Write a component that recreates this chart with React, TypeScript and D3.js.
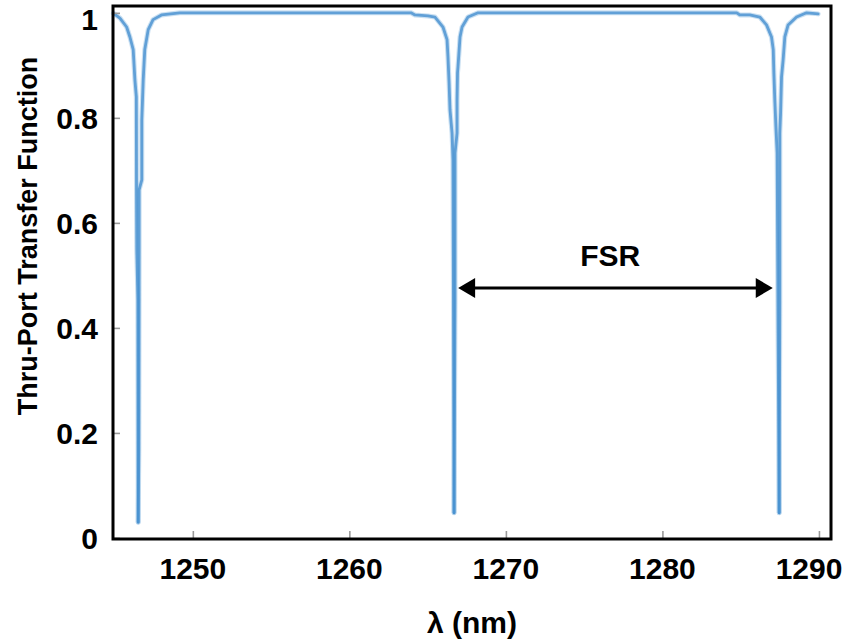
import React, { useEffect, useRef } from "react";
import * as d3 from "d3";

// thru-port response (nm, normalised)
const wavelength = [
  1244.93, 1245.34, 1245.77, 1245.98, 1246.19, 1246.3, 1246.39, 1246.4, 1246.42, 1246.49, 1246.51,
  1246.55, 1246.57, 1246.57, 1246.74, 1246.74, 1246.83, 1246.93, 1247.15, 1247.46, 1248.0, 1249.17,
  1263.94, 1264.19, 1265.02, 1265.47, 1265.98, 1266.24, 1266.3, 1266.37, 1266.43, 1266.56, 1266.62,
  1266.65, 1266.69,
  1266.75, 1266.75, 1266.88, 1266.88, 1266.91, 1266.94, 1267.07, 1267.2, 1267.58, 1268.22,
  1284.75, 1284.94, 1285.58, 1286.22, 1286.65, 1286.97, 1287.08, 1287.12, 1287.18, 1287.25, 1287.33,
  1287.39, 1287.46,
  1287.5, 1287.5, 1287.55, 1287.61, 1287.71, 1287.82, 1288.03, 1288.57, 1289.21, 1289.95,
];
const transmission = [
  0.999, 0.99, 0.973, 0.954, 0.93, 0.872, 0.84, 0.682, 0.549, 0.453, 0.03,
  0.168, 0.549, 0.663, 0.682, 0.796, 0.872, 0.93, 0.968, 0.987, 0.996, 1.0,
  1.0, 0.996, 0.994, 0.992, 0.973, 0.949, 0.916, 0.867, 0.815, 0.771, 0.72,
  0.453, 0.048,
  0.453, 0.733, 0.771, 0.834, 0.886, 0.897, 0.954, 0.973, 0.992, 1.0,
  1.0, 0.996, 0.996, 0.992, 0.977, 0.954, 0.93, 0.886, 0.834, 0.783, 0.733,
  0.39, 0.048,
  0.453, 0.771, 0.81, 0.878, 0.91, 0.954, 0.977, 0.992, 1.0, 0.998,
];

const xTicks = [1250, 1260, 1270, 1280, 1290];
const yTicks = [0, 0.2, 0.4, 0.6, 0.8, 1];
const yTickLabels = ["0", "0.2", "0.4", "0.6", "0.8", "1"];

// FSR arrow between the 2nd and 3rd resonance
const fsrFrom = 1266.95;
const fsrTo = 1287.05;
const fsrLevel = 0.476;
const fsrText = "FSR";

const W = 847;
const H = 644;
const font = "'Liberation Sans', Arial, Helvetica, sans-serif";

const x = d3.scaleLinear().domain([1244.9, 1290.77]).range([113, 831]);
const y = d3.scaleLinear().domain([-0.002, 1.013]).range([539, 6]);

export default function App() {
  const axRef = useRef<SVGGElement>(null);

  useEffect(() => {
    const g = d3.select(axRef.current);
    g.selectAll("*").remove();
    g.append("g")
      .attr("transform", `translate(0,${y.range()[0]})`)
      .call(d3.axisBottom(x).tickValues(xTicks).tickSize(-8).tickSizeOuter(0).tickFormat(() => ""));
    g.append("g")
      .attr("transform", `translate(${x.range()[0]},0)`)
      .call(d3.axisLeft(y).tickValues(yTicks).tickSize(-7).tickSizeOuter(0).tickFormat(() => ""));
    g.selectAll(".domain").remove();
    g.selectAll(".tick line").attr("stroke", "#9a9a9a").attr("stroke-width", 1.6);
  }, []);

  const pts: [number, number][] = wavelength.map((w, i) => [w, transmission[i]]);

  // split at each dip minimum so the down/up branches overlap and darken like the original
  const minIdx: number[] = [];
  for (let i = 1; i < pts.length - 1; i++) {
    if (pts[i][1] < pts[i - 1][1] && pts[i][1] < pts[i + 1][1]) minIdx.push(i);
  }
  const cuts = [0, ...minIdx, pts.length - 1];
  const pieces: [number, number][][] = [];
  for (let k = 0; k < cuts.length - 1; k++) pieces.push(pts.slice(cuts[k], cuts[k + 1] + 1));

  const line = d3
    .line<[number, number]>()
    .x((d) => x(d[0]))
    .y((d) => y(d[1]));

  const ay = y(fsrLevel);
  const ax1 = x(fsrFrom);
  const ax2 = x(fsrTo);
  const head = 17, half = 10;

  const [fx0, fx1] = x.range();
  const [fy1, fy0] = y.range();

  return (
    <svg
      width={W}
      height={H}
      viewBox={`0 0 ${W} ${H}`}
      style={{ position: "absolute", left: 0, top: 0, background: "#fff" }}
    >
      {/* curve */}
      <g fill="none" strokeLinejoin="round" strokeLinecap="round">
        {pieces.map((p, i) => (
          <path key={"h" + i} d={line(p) || ""} stroke="#a6cbea" strokeWidth={5} strokeOpacity={0.6} />
        ))}
        {pieces.map((p, i) => (
          <path key={"c" + i} d={line(p) || ""} stroke="#4690cf" strokeWidth={2.8} strokeOpacity={0.8} />
        ))}
      </g>

      <g ref={axRef} />

      {/* plot box */}
      <rect
        x={fx0}
        y={fy0}
        width={fx1 - fx0}
        height={fy1 - fy0}
        fill="none"
        stroke="rgb(0,0,0)"
        strokeWidth={3}
        vectorEffect="non-scaling-stroke"
      />

      <g fontFamily={font} fontWeight="bold" fill="#000">
        {xTicks.map((v, i) => (
          <text
            key={"xl" + v}
            x={i === xTicks.length - 1 ? Math.min(x(v), W - 38) : x(v)}
            y={579}
            textAnchor="middle"
            fontSize={30}
          >
            {v}
          </text>
        ))}
        {yTicks.map((v, i) => (
          <text key={"yl" + v} x={98} y={Math.max(y(v), 19)} dy="0.36em" textAnchor="end" fontSize={30}>
            {yTickLabels[i]}
          </text>
        ))}

        <text x={472} y={633} textAnchor="middle" fontSize={30}>
          λ (nm)
        </text>
        <text
          transform="translate(28,236) rotate(-90)"
          textAnchor="middle"
          dominantBaseline="central"
          fontSize={27}
        >
          Thru-Port Transfer Function
        </text>

        <text x={x(1276.66)} y={y(0.539)} dy="0.36em" textAnchor="middle" fontSize={30}>
          {fsrText}
        </text>
      </g>
      <line x1={ax1 + head - 2} x2={ax2 - head + 2} y1={ay} y2={ay} stroke="#000" strokeWidth={3.2} />
      <path d={`M${ax1},${ay} L${ax1 + head},${ay - half} L${ax1 + head},${ay + half} Z`} fill="#000" />
      <path d={`M${ax2},${ay} L${ax2 - head},${ay - half} L${ax2 - head},${ay + half} Z`} fill="#000" />
    </svg>
  );
}
